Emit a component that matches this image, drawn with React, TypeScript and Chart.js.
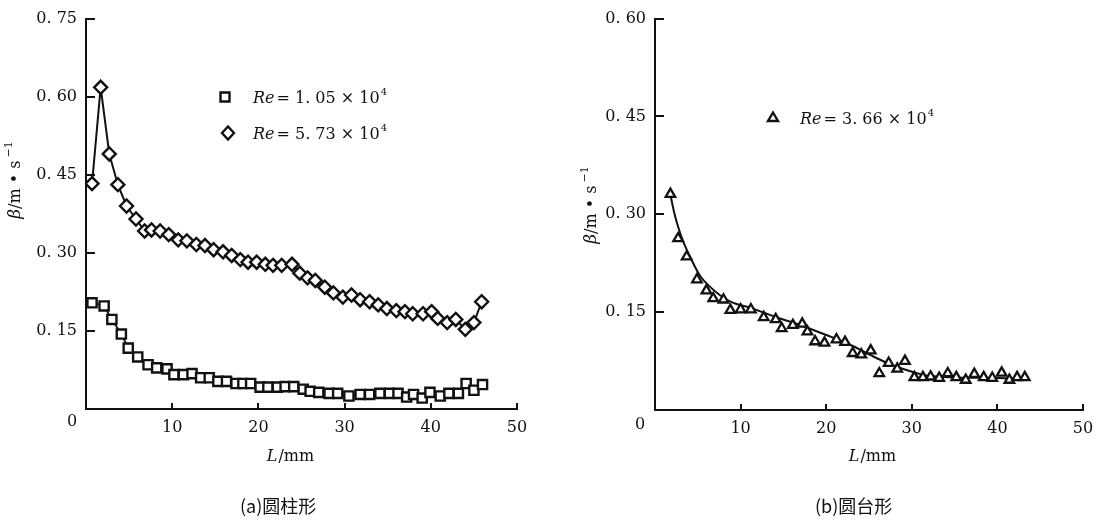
import React, { useEffect, useRef } from "react";
import { Chart, registerables } from "chart.js";

Chart.register(...registerables);

// ---------- data (a) cylinder ----------
const squareL = [0.7, 2.1, 3.0, 4.1, 4.9, 6.0, 7.2, 8.2, 9.4, 10.2, 11.3, 12.3, 13.3, 14.3, 15.3, 16.3, 17.4, 18.2, 19.1, 20.2, 21.1, 22.2, 23.1, 24.1, 25.2, 26.0, 27.0, 28.2, 29.2, 30.5, 31.8, 32.9, 34.1, 35.2, 36.2, 37.2, 38.0, 39.0, 39.9, 41.1, 42.1, 43.2, 44.1, 45.0, 46.0];
const squareBeta = [0.204, 0.198, 0.172, 0.144, 0.117, 0.1, 0.085, 0.079, 0.077, 0.066, 0.066, 0.068, 0.06, 0.06, 0.053, 0.053, 0.049, 0.049, 0.049, 0.042, 0.042, 0.042, 0.043, 0.043, 0.038, 0.034, 0.032, 0.03, 0.03, 0.025, 0.028, 0.028, 0.03, 0.03, 0.03, 0.023, 0.028, 0.021, 0.032, 0.025, 0.03, 0.03, 0.049, 0.036, 0.047];

const diamondL = [0.7, 1.7, 2.7, 3.7, 4.7, 5.8, 6.8, 7.6, 8.6, 9.6, 10.7, 11.7, 12.8, 13.8, 14.8, 15.9, 16.9, 17.9, 18.8, 19.8, 20.8, 21.7, 22.7, 23.9, 24.8, 25.7, 26.6, 27.7, 28.7, 29.8, 30.8, 31.8, 32.9, 33.9, 34.9, 36.0, 37.0, 37.9, 39.1, 40.1, 40.8, 41.9, 42.9, 44.0, 45.0, 45.9];
const diamondBeta = [0.433, 0.618, 0.49, 0.431, 0.39, 0.365, 0.342, 0.344, 0.342, 0.335, 0.325, 0.323, 0.316, 0.314, 0.306, 0.302, 0.295, 0.287, 0.282, 0.282, 0.278, 0.276, 0.276, 0.278, 0.261, 0.252, 0.247, 0.234, 0.223, 0.215, 0.219, 0.21, 0.206, 0.2, 0.193, 0.189, 0.187, 0.183, 0.183, 0.187, 0.174, 0.166, 0.172, 0.153, 0.166, 0.206];

// ---------- data (b) frustum ----------
const triangleL = [1.8, 2.7, 3.7, 4.9, 6.0, 6.8, 8.0, 8.8, 10.0, 11.2, 12.7, 14.1, 14.8, 16.1, 17.2, 17.8, 18.7, 19.8, 21.2, 22.2, 23.1, 24.1, 25.2, 26.2, 27.3, 28.3, 29.2, 30.3, 31.3, 32.2, 33.2, 34.2, 35.2, 36.3, 37.3, 38.4, 39.4, 40.5, 41.4, 42.3, 43.2];
const triangleBeta = [0.331, 0.263, 0.235, 0.2, 0.183, 0.171, 0.169, 0.153, 0.154, 0.154, 0.142, 0.139, 0.125, 0.13, 0.132, 0.12, 0.105, 0.103, 0.108, 0.104, 0.087, 0.085, 0.091, 0.056, 0.072, 0.063, 0.075, 0.05, 0.05, 0.051, 0.049, 0.056, 0.05, 0.046, 0.055, 0.05, 0.049, 0.057, 0.046, 0.05, 0.05];

const fitL = [1.8, 2.2, 2.6, 3.3, 4.2, 5.3, 6.5, 7.6, 9.0, 11.1, 14.0, 17.0, 20.0, 22.8, 25.5, 27.5, 29.2, 31.0, 32.2, 35.0, 40.0, 43.0];
const fitBeta = [0.33, 0.305, 0.285, 0.258, 0.232, 0.205, 0.188, 0.176, 0.165, 0.157, 0.143, 0.13, 0.115, 0.1, 0.082, 0.07, 0.062, 0.055, 0.052, 0.05, 0.049, 0.048];

// ---------- ticks & labels ----------
const leftYTicks = [0.15, 0.3, 0.45, 0.6, 0.75];
const rightYTicks = [0.15, 0.3, 0.45, 0.6];
const xTicks = [10, 20, 30, 40, 50];
const leftLegend = ["1. 05", "5. 73"];
const rightLegend = ["3. 66"];
const captions = ["(a)圆柱形", "(b)圆台形"];

const SERIF = '"DejaVu Serif", "Liberation Serif", serif';
const INK = "#111";

function pts(xs: number[], ys: number[]) {
  return xs.map((x, i) => ({ x, y: ys[i] }));
}

function fmtY(v: number) {
  return v.toFixed(2).replace(".", ". ");
}

function drawMarker(ctx: CanvasRenderingContext2D, kind: string, x: number, y: number) {
  ctx.save();
  ctx.strokeStyle = INK;
  ctx.fillStyle = "#fff";
  ctx.lineWidth = 2.4;
  ctx.beginPath();
  if (kind === "rect") {
    ctx.rect(x - 4.5, y - 4.5, 9, 9);
  } else if (kind === "rectRot") {
    ctx.moveTo(x, y - 6.5);
    ctx.lineTo(x + 6, y);
    ctx.lineTo(x, y + 6.5);
    ctx.lineTo(x - 6, y);
    ctx.closePath();
  } else {
    ctx.moveTo(x, y - 5.5);
    ctx.lineTo(x + 5, y + 3);
    ctx.lineTo(x - 5, y + 3);
    ctx.closePath();
  }
  ctx.fill();
  ctx.stroke();
  ctx.restore();
}

function drawRe(ctx: CanvasRenderingContext2D, x: number, y: number, mant: string) {
  ctx.save();
  ctx.fillStyle = INK;
  ctx.textBaseline = "alphabetic";
  ctx.textAlign = "left";
  ctx.font = `italic 16px ${SERIF}`;
  ctx.fillText("Re", x, y);
  x += ctx.measureText("Re").width + 2;
  ctx.font = `16px ${SERIF}`;
  const s = "= " + mant + " × 10";
  ctx.fillText(s, x, y);
  x += ctx.measureText(s).width + 1;
  ctx.font = `10px ${SERIF}`;
  ctx.fillText("4", x, y - 8);
  ctx.restore();
}

function drawYTitle(ctx: CanvasRenderingContext2D, cx: number, cy: number) {
  ctx.save();
  ctx.translate(cx, cy);
  ctx.rotate(-Math.PI / 2);
  ctx.fillStyle = INK;
  ctx.textBaseline = "middle";
  ctx.textAlign = "left";
  const fBeta = `italic 17px ${SERIF}`;
  const fMain = `16px ${SERIF}`;
  const fSup = `11px ${SERIF}`;
  ctx.font = fBeta;
  const w1 = ctx.measureText("β").width;
  ctx.font = fMain;
  const mid = "/m • s";
  const w2 = ctx.measureText(mid).width;
  ctx.font = fSup;
  const w3 = ctx.measureText("−1").width;
  let x = -(w1 + w2 + w3 + 3) / 2;
  ctx.font = fBeta;
  ctx.fillText("β", x, 0);
  x += w1;
  ctx.font = fMain;
  ctx.fillText(mid, x, 0);
  x += w2 + 3;
  ctx.font = fSup;
  ctx.fillText("−1", x, -7);
  ctx.restore();
}

function drawXTitle(ctx: CanvasRenderingContext2D, cx: number, cy: number) {
  ctx.save();
  ctx.fillStyle = INK;
  ctx.textBaseline = "middle";
  ctx.textAlign = "left";
  ctx.font = `italic 16px ${SERIF}`;
  const w1 = ctx.measureText("L").width;
  ctx.font = `16px ${SERIF}`;
  const w2 = ctx.measureText("/mm").width;
  const x = cx - (w1 + w2) / 2;
  ctx.font = `italic 16px ${SERIF}`;
  ctx.fillText("L", x, cy);
  ctx.font = `16px ${SERIF}`;
  ctx.fillText("/mm", x + w1 + 1, cy);
  ctx.restore();
}

type Extra = {
  zeroX: number;
  zeroY: number;
  yTitle: [number, number];
  xTitle: [number, number];
  legend: { kind: string; mx: number; my: number; tx: number; ty: number; mant: string }[];
};

function makeExtras(extra: Extra) {
  return {
    id: "extras",
    afterDraw(chart: any) {
      const ctx: CanvasRenderingContext2D = chart.ctx;
      const xs = chart.scales.x;
      const ys = chart.scales.y;
      const area = chart.chartArea;
      ctx.save();
      ctx.strokeStyle = INK;
      ctx.lineWidth = 2;
      ys.ticks.forEach((t: any) => {
        const py = Math.round(ys.getPixelForValue(t.value));
        ctx.beginPath();
        ctx.moveTo(area.left, py);
        ctx.lineTo(area.left + 9, py);
        ctx.stroke();
      });
      xs.ticks.forEach((t: any) => {
        const px = Math.round(xs.getPixelForValue(t.value));
        ctx.beginPath();
        ctx.moveTo(px, area.bottom);
        ctx.lineTo(px, area.bottom - 6);
        ctx.stroke();
      });
      ctx.fillStyle = INK;
      ctx.font = `16px ${SERIF}`;
      ctx.textAlign = "center";
      ctx.textBaseline = "middle";
      ctx.fillText("0", extra.zeroX, extra.zeroY);
      ctx.restore();
      drawYTitle(ctx, extra.yTitle[0], extra.yTitle[1]);
      drawXTitle(ctx, extra.xTitle[0], extra.xTitle[1]);
      extra.legend.forEach((l) => {
        drawMarker(ctx, l.kind, l.mx, l.my);
        drawRe(ctx, l.tx, l.ty, l.mant);
      });
    },
  };
}

function scalesFor(yMax: number, yTicks: number[], yWidth: number, xHeight: number) {
  return {
    x: {
      type: "linear",
      min: 0,
      max: 50,
      afterBuildTicks: (s: any) => {
        s.ticks = xTicks.map((v) => ({ value: v }));
      },
      afterFit: (s: any) => {
        s.height = xHeight;
      },
      grid: { display: true, drawOnChartArea: false, drawTicks: false },
      border: { display: true, color: INK, width: 2 },
      ticks: {
        padding: 9,
        color: INK,
        font: { family: SERIF, size: 16 },
        maxRotation: 0,
        callback: (v: any) => String(v),
      },
    },
    y: {
      type: "linear",
      min: 0,
      max: yMax,
      afterBuildTicks: (s: any) => {
        s.ticks = yTicks.map((v) => ({ value: v }));
      },
      afterFit: (s: any) => {
        s.width = yWidth;
      },
      grid: { display: true, drawOnChartArea: false, drawTicks: false },
      border: { display: true, color: INK, width: 2 },
      ticks: {
        padding: 9,
        color: INK,
        font: { family: SERIF, size: 16 },
        callback: (v: any) => fmtY(Number(v)),
      },
    },
  };
}

function LeftChart() {
  const ref = useRef<HTMLCanvasElement>(null);
  useEffect(() => {
    if (!ref.current) return;
    const chart = new Chart(ref.current, {
      type: "line",
      data: {
        datasets: [
          {
            label: "Re=1.05×10^4",
            data: pts(squareL, squareBeta),
            borderColor: INK,
            borderWidth: 1.8,
            pointStyle: "rect",
            pointRadius: 6.5,
            pointBorderWidth: 2.4,
            pointBorderColor: INK,
            pointBackgroundColor: "#fff",
            tension: 0,
          },
          {
            label: "Re=5.73×10^4",
            data: pts(diamondL, diamondBeta),
            borderColor: INK,
            borderWidth: 2,
            pointStyle: "rectRot",
            pointRadius: 6.5,
            pointBorderWidth: 2.4,
            pointBorderColor: INK,
            pointBackgroundColor: "#fff",
            tension: 0,
          },
        ],
      } as any,
      options: {
        responsive: false,
        animation: false,
        devicePixelRatio: 1,
        layout: { padding: { top: 12, right: 43, left: 0, bottom: 0 } },
        plugins: { legend: { display: false }, tooltip: { enabled: false } },
        scales: scalesFor(0.75, leftYTicks, 86, 115) as any,
      },
      plugins: [
        makeExtras({
          zeroX: 72,
          zeroY: 422,
          yTitle: [16, 180],
          xTitle: [290, 457],
          legend: [
            { kind: "rect", mx: 225, my: 97, tx: 253, ty: 103, mant: leftLegend[0] },
            { kind: "rectRot", mx: 228, my: 133, tx: 253, ty: 139, mant: leftLegend[1] },
          ],
        }),
      ],
    });
    return () => chart.destroy();
  }, []);
  return <canvas ref={ref} width={560} height={524} style={{ width: 560, height: 524, display: "block" }} />;
}

function RightChart() {
  const ref = useRef<HTMLCanvasElement>(null);
  useEffect(() => {
    if (!ref.current) return;
    const chart = new Chart(ref.current, {
      type: "line",
      data: {
        datasets: [
          {
            label: "Re=3.66×10^4",
            data: pts(triangleL, triangleBeta),
            showLine: false,
            pointStyle: "triangle",
            pointRadius: 5.5,
            pointBorderWidth: 2.3,
            pointBorderColor: INK,
            pointBackgroundColor: "#fff",
          },
          {
            label: "fit",
            data: pts(fitL, fitBeta),
            borderColor: INK,
            borderWidth: 2,
            pointRadius: 0,
            cubicInterpolationMode: "monotone",
          },
        ],
      } as any,
      options: {
        responsive: false,
        animation: false,
        devicePixelRatio: 1,
        layout: { padding: { top: 10, right: 25, left: 0, bottom: 0 } },
        plugins: { legend: { display: false }, tooltip: { enabled: false } },
        scales: scalesFor(0.6, rightYTicks, 95, 114) as any,
      },
      plugins: [
        makeExtras({
          zeroX: 80,
          zeroY: 425,
          yTitle: [32, 205],
          xTitle: [312, 457],
          legend: [{ kind: "triangle", mx: 213, my: 118, tx: 240, ty: 124, mant: rightLegend[0] }],
        }),
      ],
    });
    return () => chart.destroy();
  }, []);
  return <canvas ref={ref} width={548} height={524} style={{ width: 548, height: 524, display: "block" }} />;
}

export default function App() {
  const capStyle: React.CSSProperties = {
    position: "absolute",
    top: 492,
    fontFamily: '"Noto Sans CJK SC", sans-serif',
    fontSize: 18,
    lineHeight: "26px",
    color: INK,
    whiteSpace: "nowrap",
  };
  return (
    <div style={{ position: "absolute", left: 0, top: 0, width: 1108, height: 524, background: "#fff", overflow: "hidden" }}>
      <div style={{ position: "absolute", left: 0, top: 0 }}>
        <LeftChart />
      </div>
      <div style={{ position: "absolute", left: 560, top: 0 }}>
        <RightChart />
      </div>
      <div style={{ ...capStyle, left: 240 }}>{captions[0]}</div>
      <div style={{ ...capStyle, left: 815 }}>{captions[1]}</div>
    </div>
  );
}
